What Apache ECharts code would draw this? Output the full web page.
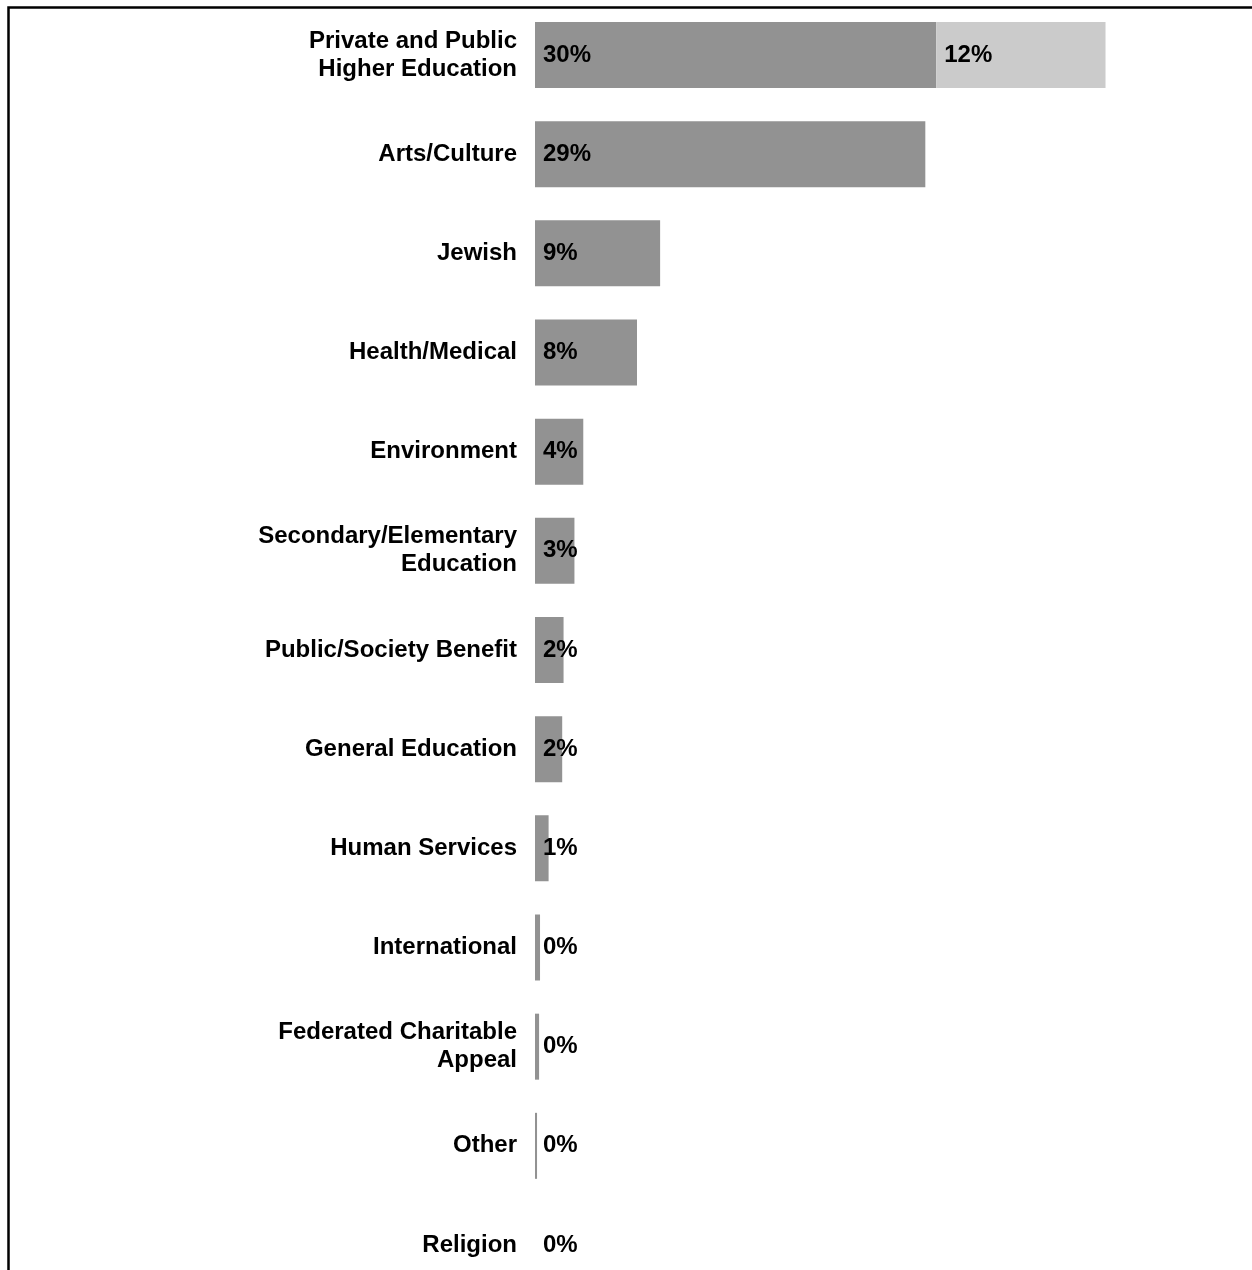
<!DOCTYPE html>
<html>
<head>
<meta charset="utf-8">
<script src="https://cdn.jsdelivr.net/npm/echarts@6/dist/echarts.min.js"></script>
<style>
  html, body { margin: 0; padding: 0; background: #ffffff; }
  #chart { width: 1252px; height: 1270px; }
</style>
</head>
<body>
<div id="chart"></div>
<script>
// Share of giving by recipient category (percent)
const categories = [
  'Private and Public\nHigher Education',
  'Arts/Culture',
  'Jewish',
  'Health/Medical',
  'Environment',
  'Secondary/Elementary\nEducation',
  'Public/Society Benefit',
  'General Education',
  'Human Services',
  'International',
  'Federated Charitable\nAppeal',
  'Other',
  'Religion'
];
const primaryShare = [29.5, 28.7, 9.2, 7.5, 3.55, 2.9, 2.1, 2.0, 1.0, 0.37, 0.3, 0.15, 0];
const additionalShare = [12.45, '-', '-', '-', '-', '-', '-', '-', '-', '-', '-', '-', '-'];

const FONT = '"Liberation Sans", Arial, Helvetica, sans-serif';

const valueLabel = {
  show: true,
  position: 'insideLeft',
  distance: 8,
  color: '#000000',
  fontFamily: FONT,
  fontWeight: 'bold',
  fontSize: 24,
  formatter: p => Math.round(p.value) + '%'
};

const chart = echarts.init(document.getElementById('chart'), null, { renderer: 'canvas' });
chart.setOption({
  animation: false,
  backgroundColor: '#ffffff',
  // categories sit on the axis ends so the first and last rows are centred at the grid edges
  grid: { left: 535, top: 55, width: 680, height: 1190, containLabel: false },
  xAxis: {
    type: 'value',
    min: 0,
    max: 50,
    show: false
  },
  yAxis: {
    type: 'category',
    data: categories,
    inverse: true,
    boundaryGap: false,
    axisLine: { show: false },
    axisTick: { show: false },
    splitLine: { show: false },
    axisLabel: {
      margin: 18,
      color: '#000000',
      fontFamily: FONT,
      fontWeight: 'bold',
      fontSize: 24,
      lineHeight: 28,
      align: 'right'
    }
  },
  series: [
    {
      name: 'primary',
      type: 'bar',
      stack: 'share',
      data: primaryShare,
      barWidth: 66,
      clip: false,
      itemStyle: { color: '#929292' },
      label: valueLabel
    },
    {
      name: 'additional',
      type: 'bar',
      stack: 'share',
      data: additionalShare,
      barWidth: 66,
      clip: false,
      itemStyle: { color: '#cbcbcb' },
      label: valueLabel
    }
  ],
  graphic: [
    {
      type: 'rect',
      shape: { x: 8.5, y: 7.5, width: 1400, height: 1400 },
      style: { fill: null, stroke: '#000000', lineWidth: 2.5 },
      silent: true
    }
  ]
});
</script>
</body>
</html>
